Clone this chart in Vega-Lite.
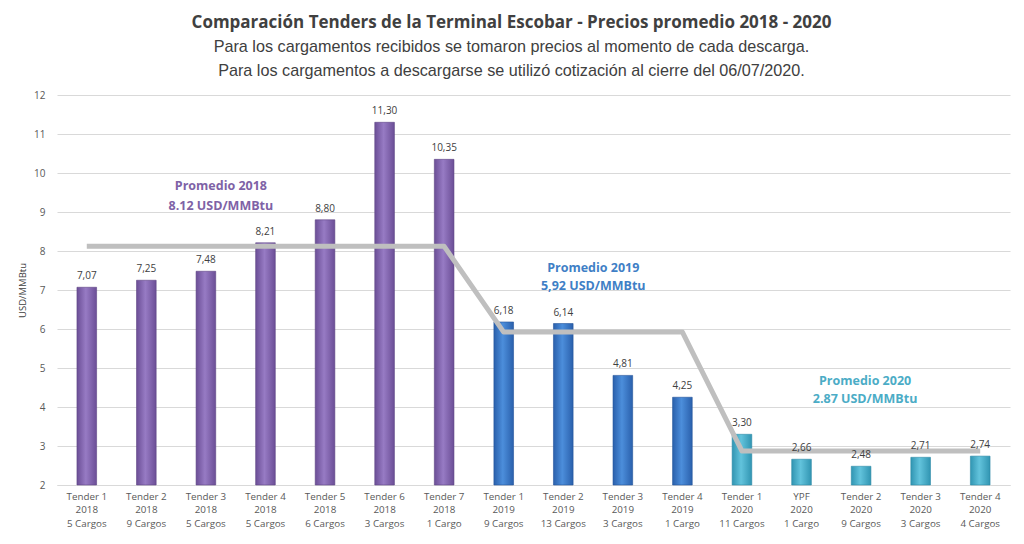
{
  "$schema": "https://vega.github.io/schema/vega-lite/v6.json",
  "autosize": "none",
  "width": 953,
  "height": 390,
  "padding": {"left": 57, "top": 95, "right": 14, "bottom": 59},
  "background": "white",
  "config": {
    "locale": {"number": {"decimal": ",", "thousands": ".", "grouping": [3], "currency": ["", ""]}},
    "view": {"stroke": null},
    "font": "Open Sans"
  },
  "title": {
    "text": "Comparación  Tenders de la Terminal Escobar - Precios promedio 2018 - 2020",
    "subtitle": ["Para los cargamentos recibidos se tomaron precios al momento de cada descarga.", "Para los cargamentos a descargarse se utilizó cotización al cierre del 06/07/2020."],
    "anchor": "middle",
    "dx": -22,
    "offset": 10,
    "font": "Open Sans",
    "fontSize": 17,
    "fontWeight": "bold",
    "color": "#404040",
    "subtitleFont": "Liberation Sans",
    "subtitleFontSize": 16.2,
    "subtitleColor": "#404040",
    "subtitlePadding": 7,
    "subtitleLineHeight": 23.5
  },
  "datasets": {
    "tenders": [
      {"cat": "Tender 1|2018|5 Cargos", "year": "2018", "price": 7.07, "avg": 8.12},
      {"cat": "Tender 2|2018|9 Cargos", "year": "2018", "price": 7.25, "avg": 8.12},
      {"cat": "Tender 3|2018|5 Cargos", "year": "2018", "price": 7.48, "avg": 8.12},
      {"cat": "Tender 4|2018|5 Cargos", "year": "2018", "price": 8.21, "avg": 8.12},
      {"cat": "Tender 5|2018|6 Cargos", "year": "2018", "price": 8.80, "avg": 8.12},
      {"cat": "Tender 6|2018|3 Cargos", "year": "2018", "price": 11.30, "avg": 8.12},
      {"cat": "Tender 7|2018|1 Cargo", "year": "2018", "price": 10.35, "avg": 8.12},
      {"cat": "Tender 1|2019|9 Cargos", "year": "2019", "price": 6.18, "avg": 5.92},
      {"cat": "Tender 2|2019|13 Cargos", "year": "2019", "price": 6.14, "avg": 5.92},
      {"cat": "Tender 3|2019|3 Cargos", "year": "2019", "price": 4.81, "avg": 5.92},
      {"cat": "Tender 4|2019|1 Cargo", "year": "2019", "price": 4.25, "avg": 5.92},
      {"cat": "Tender 1|2020|11 Cargos", "year": "2020", "price": 3.30, "avg": 2.87},
      {"cat": "YPF|2020|1 Cargo", "year": "2020", "price": 2.66, "avg": 2.87},
      {"cat": "Tender 2|2020|9 Cargos", "year": "2020", "price": 2.48, "avg": 2.87},
      {"cat": "Tender 3|2020|3 Cargos", "year": "2020", "price": 2.71, "avg": 2.87},
      {"cat": "Tender 4|2020|4 Cargos", "year": "2020", "price": 2.74, "avg": 2.87}
    ]
  },
  "data": {"name": "tenders"},
  "encoding": {
    "x": {
      "field": "cat", "type": "nominal", "sort": null,
      "scale": {"paddingInner": 0.67, "paddingOuter": 0.335},
      "axis": {
        "title": null, "labelAngle": 0, "labelExpr": "split(datum.value, '|')",
        "labelFont": "Open Sans", "labelFontSize": 9.8, "labelColor": "#595959", "labelLineHeight": 13.5,
        "labelPadding": 6, "ticks": false, "domainColor": "#D9D9D9", "labelBaseline": "top"
      }
    },
    "y": {
      "type": "quantitative",
      "scale": {"domain": [2, 12], "zero": false, "nice": false},
      "axis": {
        "title": "USD/MMBtu", "titleFont": "Open Sans", "titleFontSize": 9.5, "titleFontWeight": "normal", "titleColor": "#404040", "titlePadding": 6,
        "values": [2,3,4,5,6,7,8,9,10,11,12], "labelOverlap": false,
        "labelFont": "Open Sans", "labelFontSize": 10, "labelColor": "#595959", "labelPadding": 12,
        "ticks": false, "domain": false, "gridColor": "#D9D9D9"
      }
    }
  },
  "layer": [
    {
      "transform": [{"filter": "datum.year == '2018'"}],
      "mark": {"type": "bar", "stroke": "#5E4585", "strokeWidth": 0.6,
        "color": {"gradient": "linear", "x1": 0, "x2": 1, "y1": 0, "y2": 0,
          "stops": [{"offset": 0, "color": "#6B4E96"}, {"offset": 0.45, "color": "#977BC4"}, {"offset": 1, "color": "#6B4E96"}]}},
      "encoding": {"y": {"field": "price"}, "y2": {"datum": 2}}
    },
    {
      "transform": [{"filter": "datum.year == '2019'"}],
      "mark": {"type": "bar", "stroke": "#24549A", "strokeWidth": 0.6,
        "color": {"gradient": "linear", "x1": 0, "x2": 1, "y1": 0, "y2": 0,
          "stops": [{"offset": 0, "color": "#2A60AC"}, {"offset": 0.45, "color": "#4C8EDB"}, {"offset": 1, "color": "#2A60AC"}]}},
      "encoding": {"y": {"field": "price"}, "y2": {"datum": 2}}
    },
    {
      "transform": [{"filter": "datum.year == '2020'"}],
      "mark": {"type": "bar", "stroke": "#2C8AA6", "strokeWidth": 0.6,
        "color": {"gradient": "linear", "x1": 0, "x2": 1, "y1": 0, "y2": 0,
          "stops": [{"offset": 0, "color": "#3195B2"}, {"offset": 0.45, "color": "#62C3DC"}, {"offset": 1, "color": "#3195B2"}]}},
      "encoding": {"y": {"field": "price"}, "y2": {"datum": 2}}
    },
    {
      "mark": {"type": "line", "color": "#BFBFBF", "strokeWidth": 5, "strokeJoin": "round"},
      "encoding": {"y": {"field": "avg"}}
    },
    {
      "mark": {"type": "text", "baseline": "bottom", "dy": -6, "font": "Open Sans", "fontSize": 10, "color": "#404040"},
      "encoding": {"y": {"field": "price"}, "text": {"field": "price", "type": "quantitative", "format": ".2f"}}
    },
    {
      "data": {"values": [{"cat": "Tender 3|2018|5 Cargos", "ypos": 9.67}]},
      "mark": {"type": "text", "dx": 15, "font": "Open Sans", "fontSize": 12.5, "fontWeight": "bold", "color": "#7E62A6", "lineHeight": 20, "baseline": "middle"},
      "encoding": {"y": {"field": "ypos"}, "text": {"value": ["Promedio 2018", "8.12 USD/MMBtu"]}}
    },
    {
      "data": {"values": [{"cat": "Tender 2|2019|13 Cargos", "ypos": 7.57}]},
      "mark": {"type": "text", "dx": 30, "font": "Open Sans", "fontSize": 12.5, "fontWeight": "bold", "color": "#3F7FC6", "lineHeight": 18, "baseline": "middle"},
      "encoding": {"y": {"field": "ypos"}, "text": {"value": ["Promedio 2019", "5,92 USD/MMBtu"]}}
    },
    {
      "data": {"values": [{"cat": "Tender 2|2020|9 Cargos", "ypos": 4.67}]},
      "mark": {"type": "text", "dx": 4, "font": "Open Sans", "fontSize": 12.5, "fontWeight": "bold", "color": "#4BACC6", "lineHeight": 18, "baseline": "middle"},
      "encoding": {"y": {"field": "ypos"}, "text": {"value": ["Promedio 2020", "2.87 USD/MMBtu"]}}
    }
  ]
}
